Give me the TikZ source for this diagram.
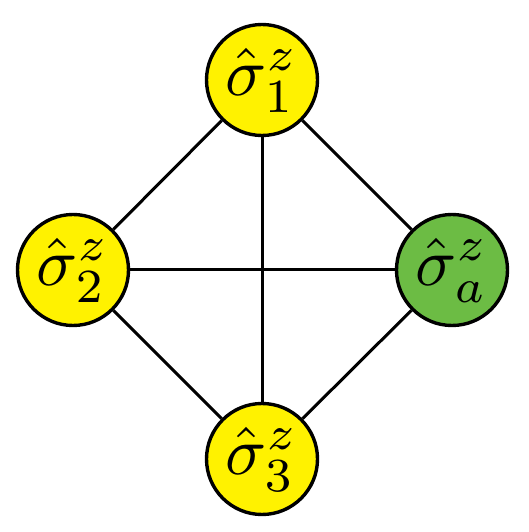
\documentclass[tikz,border=0pt]{standalone}
\usepackage{graphicx}
\definecolor{nodeyellow}{RGB}{255,242,0}
\definecolor{nodegreen}{RGB}{108,188,68}
\tikzset{
  spin/.style={circle, draw=black, line width=3.4pt, minimum size=111pt, inner sep=0pt, fill=nodeyellow},
  anc/.style={spin, fill=nodegreen},
  link/.style={line width=3pt, black}
}
\newcommand{\lbl}[1]{\scalebox{6.8}{$\hat\sigma^z_{#1}$}}
\begin{document}
\begin{tikzpicture}[x=1pt,y=1pt]
\useasboundingbox (0,0) rectangle (528,532);
\node[spin] (s1) at (262,452) {\lbl{1}};
\node[spin] (s2) at (73,262) {\lbl{2}};
\node[anc] (sa) at (452,262) {\lbl{a}};
\node[spin] (s3) at (262,73) {\lbl{3}};
\draw[link] (s1) -- (s2);
\draw[link] (s1) -- (sa);
\draw[link] (s2) -- (s3);
\draw[link] (sa) -- (s3);
\draw[link] (s1) -- (s3);
\draw[link] (s2) -- (sa);
\end{tikzpicture}
\end{document}
